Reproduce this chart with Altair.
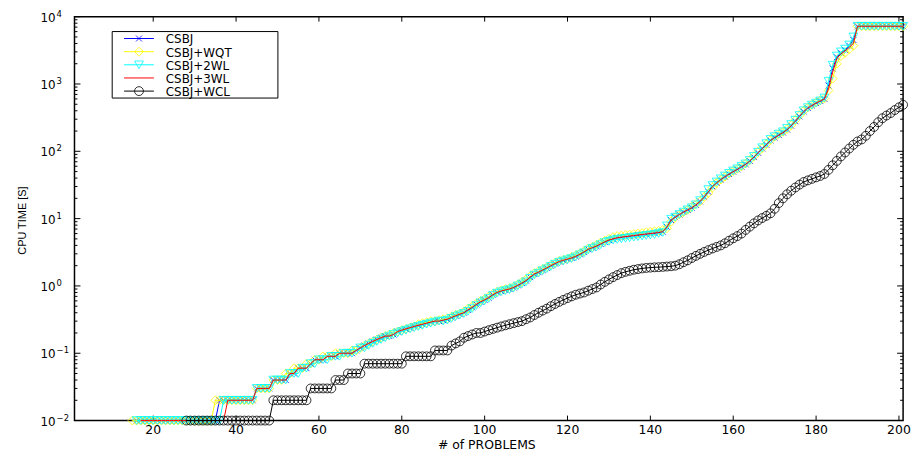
import altair as alt
import pandas as pd

# ---------------- data ----------------
names = ["CSBJ", "CSBJ+WQT", "CSBJ+2WL", "CSBJ+3WL", "CSBJ+WCL"]
colors = ["#0000ff", "#ffff00", "#00ffff", "#ff0000", "#000000"]
starts = [16, 15, 16, 17, 28]   # first problem index plotted (earlier ones take 0 s)

csbj = (
    [0.01] * 4
    + [0.01] * 10
    + [0.01] * 6 + [0.02] * 4
    + [0.02] * 5 + [0.03] * 4 + [0.04]
    + [0.04, 0.04, 0.04, 0.05, 0.05, 0.06, 0.06, 0.06, 0.07, 0.08]
    + [0.08, 0.08, 0.09, 0.09, 0.09, 0.1, 0.1, 0.1, 0.1, 0.11]
    + [0.12, 0.13, 0.14, 0.15, 0.16, 0.17, 0.18, 0.18, 0.19, 0.21]
    + [0.22, 0.23, 0.24, 0.25, 0.26, 0.27, 0.28, 0.29, 0.3, 0.3]
    + [0.31, 0.32, 0.34, 0.36, 0.38, 0.4, 0.44, 0.48, 0.53, 0.58]
    + [0.62, 0.67, 0.74, 0.8, 0.84, 0.87, 0.9, 0.95, 1.02, 1.1]
    + [1.2, 1.35, 1.5, 1.6, 1.72, 1.85, 2.0, 2.15, 2.3, 2.4]
    + [2.5, 2.6, 2.75, 2.95, 3.2, 3.5, 3.7, 3.9, 4.2, 4.5]
    + [4.8, 5.0, 5.2, 5.3, 5.4, 5.5, 5.6, 5.7, 5.8, 5.9]
    + [6.0, 6.1, 6.2, 6.4, 7.5, 9.5, 10.5, 11.5, 12.5, 13.5]
    + [14.5, 16, 18, 21, 25, 30, 34, 38, 42, 46]
    + [50, 54, 59, 64, 72, 82, 95, 110, 125, 145]
    + [160, 175, 190, 210, 240, 280, 330, 390, 440, 480]
    + [520, 560, 600, 950, 1700, 2500, 2900, 3200, 3700, 4500]
    + [7200] * 10
    + [7200, 7200]
)

csbj_wqt = (
    [0.01] * 5
    + [0.01] * 10
    + [0.01] * 5 + [0.02] * 5
    + [0.02] * 5 + [0.03] * 4 + [0.04]
    + [0.04, 0.04, 0.05, 0.05, 0.06, 0.06, 0.06, 0.07, 0.07, 0.08]
    + [0.08, 0.09, 0.09, 0.09, 0.1, 0.1, 0.1, 0.1, 0.11, 0.11]
    + [0.12, 0.13, 0.14, 0.15, 0.16, 0.17, 0.18, 0.19, 0.2, 0.21]
    + [0.22, 0.23, 0.24, 0.25, 0.27, 0.28, 0.29, 0.3, 0.3, 0.31]
    + [0.32, 0.33, 0.35, 0.37, 0.39, 0.42, 0.46, 0.5, 0.55, 0.6]
    + [0.64, 0.7, 0.76, 0.82, 0.86, 0.9, 0.93, 0.98, 1.05, 1.15]
    + [1.25, 1.4, 1.55, 1.65, 1.78, 1.9, 2.05, 2.2, 2.35, 2.45]
    + [2.55, 2.7, 2.85, 3.05, 3.3, 3.6, 3.8, 4.1, 4.4, 4.7]
    + [5.0, 5.3, 5.5, 5.6, 5.7, 5.8, 5.9, 6.0, 6.1, 6.3]
    + [6.4, 6.5, 6.6, 6.8, 7.2, 9.0, 10.5, 11.5, 12.5, 13.5]
    + [15, 16.5, 18, 21, 24, 29, 34, 38, 42, 47]
    + [51, 55, 60, 66, 74, 84, 98, 112, 128, 148]
    + [165, 180, 195, 215, 245, 290, 340, 400, 450, 490]
    + [530, 570, 610, 800, 1200, 2000, 2600, 2900, 3300, 3700]
    + [7200] * 10
    + [7200, 7200]
)

csbj_2wl = (
    [0.01] * 4
    + [0.01] * 10
    + [0.01] * 7 + [0.02] * 3
    + [0.02] * 5 + [0.03] * 4 + [0.04]
    + [0.04, 0.04, 0.04, 0.05, 0.05, 0.05, 0.06, 0.06, 0.07, 0.07]
    + [0.08, 0.08, 0.08, 0.09, 0.09, 0.09, 0.1, 0.1, 0.1, 0.11]
    + [0.12, 0.12, 0.13, 0.14, 0.15, 0.16, 0.17, 0.18, 0.19, 0.2]
    + [0.21, 0.22, 0.23, 0.24, 0.25, 0.26, 0.27, 0.28, 0.29, 0.3]
    + [0.3, 0.31, 0.33, 0.35, 0.37, 0.39, 0.42, 0.46, 0.51, 0.56]
    + [0.6, 0.65, 0.72, 0.78, 0.82, 0.85, 0.88, 0.93, 1.0, 1.07]
    + [1.15, 1.3, 1.45, 1.55, 1.68, 1.8, 1.95, 2.1, 2.25, 2.35]
    + [2.45, 2.55, 2.7, 2.9, 3.1, 3.4, 3.6, 3.8, 4.1, 4.4]
    + [4.6, 4.8, 4.9, 5.0, 5.1, 5.2, 5.3, 5.4, 5.5, 5.6]
    + [5.7, 5.8, 6.0, 6.2, 7.8, 9.8, 10.5, 11.5, 12.5, 13.5]
    + [14.5, 16, 18.5, 22, 27, 31, 35, 39, 43, 47]
    + [51, 55, 60, 65, 73, 84, 97, 113, 130, 150]
    + [165, 180, 195, 220, 250, 290, 340, 400, 445, 485]
    + [520, 560, 620, 1100, 1900, 2600, 3000, 3300, 3800, 5000]
    + [7200] * 10
    + [7200, 7200]
)

csbj_3wl = (
    [0.01] * 3
    + [0.01] * 10
    + [0.01] * 8 + [0.02] * 2
    + [0.02] * 5 + [0.03] * 4 + [0.04]
    + [0.04, 0.04, 0.04, 0.05, 0.05, 0.06, 0.06, 0.06, 0.07, 0.08]
    + [0.08, 0.08, 0.09, 0.09, 0.09, 0.1, 0.1, 0.1, 0.1, 0.11]
    + [0.12, 0.13, 0.14, 0.15, 0.16, 0.17, 0.18, 0.18, 0.19, 0.21]
    + [0.22, 0.23, 0.24, 0.25, 0.26, 0.27, 0.28, 0.29, 0.3, 0.3]
    + [0.31, 0.32, 0.34, 0.36, 0.38, 0.4, 0.44, 0.48, 0.53, 0.58]
    + [0.62, 0.67, 0.74, 0.8, 0.84, 0.87, 0.9, 0.95, 1.02, 1.1]
    + [1.2, 1.35, 1.5, 1.6, 1.72, 1.85, 2.0, 2.15, 2.3, 2.4]
    + [2.5, 2.6, 2.75, 2.95, 3.2, 3.5, 3.7, 3.9, 4.2, 4.5]
    + [4.8, 5.0, 5.2, 5.3, 5.4, 5.5, 5.6, 5.7, 5.8, 5.9]
    + [6.0, 6.1, 6.2, 6.4, 7.5, 9.5, 10.5, 11.5, 12.5, 13.5]
    + [14.5, 16, 18, 21, 25, 30, 34, 38, 42, 46]
    + [50, 54, 59, 64, 72, 82, 95, 110, 125, 145]
    + [160, 175, 190, 210, 240, 280, 330, 390, 440, 480]
    + [520, 560, 600, 850, 1500, 2400, 2800, 3100, 3500, 4000]
    + [7200] * 10
    + [7200, 7200]
)

csbj_wcl = (
    [0.01, 0.01]
    + [0.01] * 10
    + [0.01] * 9 + [0.02]
    + [0.02] * 8 + [0.03, 0.03]
    + [0.03] * 4 + [0.04] * 3 + [0.05] * 3
    + [0.05] + [0.07] * 9
    + [0.07] + [0.09] * 7 + [0.11, 0.11]
    + [0.11, 0.11, 0.13, 0.14, 0.15, 0.17, 0.18, 0.19, 0.2, 0.2]
    + [0.21, 0.22, 0.23, 0.24, 0.25, 0.26, 0.27, 0.28, 0.29, 0.3]
    + [0.32, 0.34, 0.37, 0.4, 0.43, 0.46, 0.5, 0.54, 0.58, 0.62]
    + [0.66, 0.7, 0.74, 0.77, 0.8, 0.85, 0.9, 0.95, 1.05, 1.15]
    + [1.25, 1.35, 1.45, 1.55, 1.62, 1.68, 1.74, 1.78, 1.82, 1.85]
    + [1.87, 1.89, 1.9, 1.92, 1.94, 1.96, 2.0, 2.1, 2.25, 2.4]
    + [2.6, 2.8, 3.0, 3.2, 3.4, 3.6, 3.8, 4.0, 4.3, 4.7]
    + [5.1, 5.5, 6.0, 6.8, 7.6, 8.5, 9.4, 10.2, 11, 12]
    + [14, 17, 20, 23, 26, 29, 32, 35, 37, 39]
    + [41, 43, 46, 53, 62, 72, 84, 96, 110, 125]
    + [140, 150, 170, 200, 230, 270, 310, 340, 370, 410]
    + [450, 490]
)

series_values = [csbj, csbj_wqt, csbj_2wl, csbj_3wl, csbj_wcl]

x_ticks = [20, 40, 60, 80, 100, 120, 140, 160, 180, 200]
y_ticks = [0.01, 0.1, 1, 10, 100, 1000, 10000]
y_exponents = ["\u22122", "\u22121", "0", "1", "2", "3", "4"]
x_title = "# of PROBLEMS"
y_title = "CPU TIME [S]"

# ---------------- styling ----------------
W, H = 835, 407
FONT = "DejaVu Sans"
X_PATH = "M-1,-1L1,1M-1,1L1,-1"
shapes = [X_PATH, "diamond", "triangle-down", None, "circle"]
sizes = [36, 80, 80, 0, 80]

xs = alt.Scale(domain=[1, 201], nice=False, zero=False)


def ys():
    return alt.Scale(type="log", domain=[0.01, 10000], nice=False)


layers = []

# x ticks (inward, bottom and top)
xt_df = pd.DataFrame({"xt": x_ticks})
for y1, y2 in ((H, H - 5), (0, 5)):
    layers.append(
        alt.Chart(xt_df).mark_rule(color="black", strokeWidth=1).encode(
            x=alt.X("xt:Q", scale=xs, axis=None), y=alt.value(y1), y2=alt.value(y2)
        )
    )
# x tick labels
layers.append(
    alt.Chart(xt_df).mark_text(
        align="center", baseline="middle", font=FONT, fontSize=12.5, color="black"
    ).encode(x=alt.X("xt:Q", scale=xs, axis=None), y=alt.value(H + 10), text="xt:Q")
)
# x title
layers.append(
    alt.Chart(pd.DataFrame({"t": [x_title]})).mark_text(
        align="center", baseline="middle", font=FONT, fontSize=12.5, color="black"
    ).encode(x=alt.value(W / 2 - 2), y=alt.value(H + 25), text="t:N")
)

# y ticks (inward, major + minor, left and right)
minor = [m * 10.0 ** k for k in range(-2, 4) for m in range(2, 10)]
ymaj_df = pd.DataFrame({"v": y_ticks})
ymin_df = pd.DataFrame({"v": minor})
for df_, ln in ((ymaj_df, 6), (ymin_df, 3)):
    layers.append(
        alt.Chart(df_).mark_rule(color="black", strokeWidth=1).encode(
            y=alt.Y("v:Q", scale=ys(), axis=None), x=alt.value(0), x2=alt.value(ln)
        )
    )
    layers.append(
        alt.Chart(df_).mark_rule(color="black", strokeWidth=1).encode(
            y=alt.Y("v:Q", scale=ys(), axis=None), x=alt.value(W), x2=alt.value(W - ln)
        )
    )

# y tick labels 10^k
ylab_df = pd.DataFrame({"v": y_ticks, "exp": y_exponents})
layers.append(
    alt.Chart(ylab_df).mark_text(
        align="right", baseline="middle", font=FONT, fontSize=12, color="black", dy=1
    ).encode(y=alt.Y("v:Q", scale=ys(), axis=None), x=alt.value(-19), text=alt.value("10"))
)
layers.append(
    alt.Chart(ylab_df).mark_text(
        align="left", baseline="middle", font=FONT, fontSize=8.5, color="black", dy=-3
    ).encode(y=alt.Y("v:Q", scale=ys(), axis=None), x=alt.value(-18), text="exp:N")
)

# y title
layers.append(
    alt.Chart(pd.DataFrame({"t": [y_title]})).mark_text(
        angle=270, align="center", baseline="middle", font="Liberation Sans",
        fontSize=11, color="black",
    ).encode(x=alt.value(-52), y=alt.value(H / 2 + 2), text="t:N")
)

# data series: line then markers, series by series
for name, col, shp, sz, st, vals in zip(names, colors, shapes, sizes, starts, series_values):
    df = pd.DataFrame({"n": list(range(st, st + len(vals))), "t": vals})
    layers.append(
        alt.Chart(df).mark_line(color=col, strokeWidth=1).encode(
            x=alt.X("n:Q", scale=xs, axis=None),
            y=alt.Y("t:Q", scale=ys(), axis=None),
        )
    )
    if shp is not None:
        layers.append(
            alt.Chart(df).mark_point(
                shape=shp, size=sz, filled=False, stroke=col, strokeWidth=0.8, opacity=1
            ).encode(
                x=alt.X("n:Q", scale=xs, axis=None),
                y=alt.Y("t:Q", scale=ys(), axis=None),
            )
        )

# legend box
layers.append(
    alt.Chart(pd.DataFrame({"a": [0]})).mark_rect(
        fill="white", stroke="black", strokeWidth=1
    ).encode(x=alt.value(38), x2=alt.value(205), y=alt.value(15), y2=alt.value(82))
)
leg_scale = alt.Scale(domain=[0, 4], range=[22, 75])
leg_df = pd.DataFrame({"name": names, "row": list(range(len(names)))})
for i, (name, col, shp, sz) in enumerate(zip(names, colors, shapes, sizes)):
    d = leg_df[leg_df["row"] == i]
    layers.append(
        alt.Chart(d).mark_rule(color=col, strokeWidth=1).encode(
            x=alt.value(50), x2=alt.value(80), y=alt.Y("row:Q", scale=leg_scale, axis=None)
        )
    )
    if shp is not None:
        layers.append(
            alt.Chart(d).mark_point(
                shape=shp, size=sz, filled=False, stroke=col, strokeWidth=0.8, opacity=1
            ).encode(x=alt.value(65), y=alt.Y("row:Q", scale=leg_scale, axis=None))
        )
layers.append(
    alt.Chart(leg_df).mark_text(
        align="left", baseline="middle", font=FONT, fontSize=12, color="black", dy=1
    ).encode(x=alt.value(92), y=alt.Y("row:Q", scale=leg_scale, axis=None), text="name:N")
)

chart = (
    alt.layer(*layers)
    .resolve_scale(y="independent")
    .properties(
        width=W,
        height=H,
        autosize=alt.AutoSizeParams(type="none"),
        padding={"left": 67, "top": 7, "right": 12, "bottom": 38},
        background="white",
    )
    .configure_view(stroke="black", strokeWidth=1.5)
)

chart.save("out.html", embed_options={"renderer": "svg", "actions": False})
